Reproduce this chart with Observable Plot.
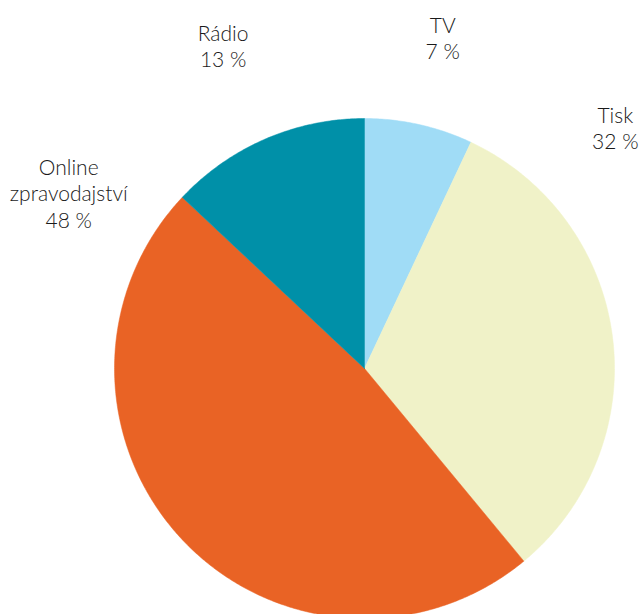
<!DOCTYPE html>
<html><head><meta charset="utf-8">
<script src="https://cdn.jsdelivr.net/npm/d3@7"></script>
<script src="https://cdn.jsdelivr.net/npm/@observablehq/plot@0.6"></script>
<style>html,body{margin:0;padding:0;background:#fff;overflow:hidden}</style>
</head><body><div id="chart"></div>
<script>
// Data (clockwise from 12 o'clock)
const categories = ["TV", "Tisk", "Online zpravodajství", "Rádio"];
const labelTexts = ["TV", "Tisk", "Online\nzpravodajství", "Rádio"];
const values = [7, 32, 48, 13];
const colors = ["#a0dcf6", "#f0f2c8", "#e96325", "#0090a8"];
// Label layout: angle in degrees clockwise from top, distance in pie radii
const labelAngles = [13.3, 46.2, -59.3, -23.65];
const labelDist = [1.36, 1.39, 1.376, 1.41];

const W = 641, H = 614, R = 250, CX = 364, CY = 368;
const total = d3.sum(values);
const pts = [];
let acc = 0;
values.forEach((v, i) => {
  const a0 = acc / total * 2 * Math.PI;
  acc += v;
  const a1 = acc / total * 2 * Math.PI;
  const n = Math.max(2, Math.ceil((a1 - a0) / (Math.PI / 360)));
  pts.push({i, x: 0, y: 0});
  for (let k = 0; k <= n; k++) {
    const a = a0 + (a1 - a0) * k / n;
    pts.push({i, x: Math.sin(a), y: Math.cos(a)});
  }
  pts.push({i, x: 0, y: 0});
});
const labels = values.map((v, i) => {
  const a = labelAngles[i] * Math.PI / 180;
  return {x: labelDist[i] * Math.sin(a), y: labelDist[i] * Math.cos(a), text: `${labelTexts[i]}\n${v} %`};
});

const chart = Plot.plot({
  width: W, height: H, margin: 0,
  x: {domain: [-CX / R, (W - CX) / R], range: [0, W], axis: null},
  y: {domain: [-(H - CY) / R, CY / R], range: [H, 0], axis: null},
  style: {background: "#fff", overflow: "visible"},
  marks: [
    ...values.map((v, i) => Plot.line(pts.filter(d => d.i === i), {
      x: "x", y: "y", fill: colors[i], stroke: colors[i], strokeWidth: 0.5, curve: "linear"
    })),
    Plot.text(labels, {
      x: "x", y: "y", text: "text", fontSize: 21, lineHeight: 1.25, fontWeight: 300,
      fill: "#1a1a1a", fontFamily: "Lato, sans-serif", textAnchor: "middle", lineAnchor: "middle"
    })
  ]
});
document.getElementById("chart").append(chart);
</script>
</body></html>
